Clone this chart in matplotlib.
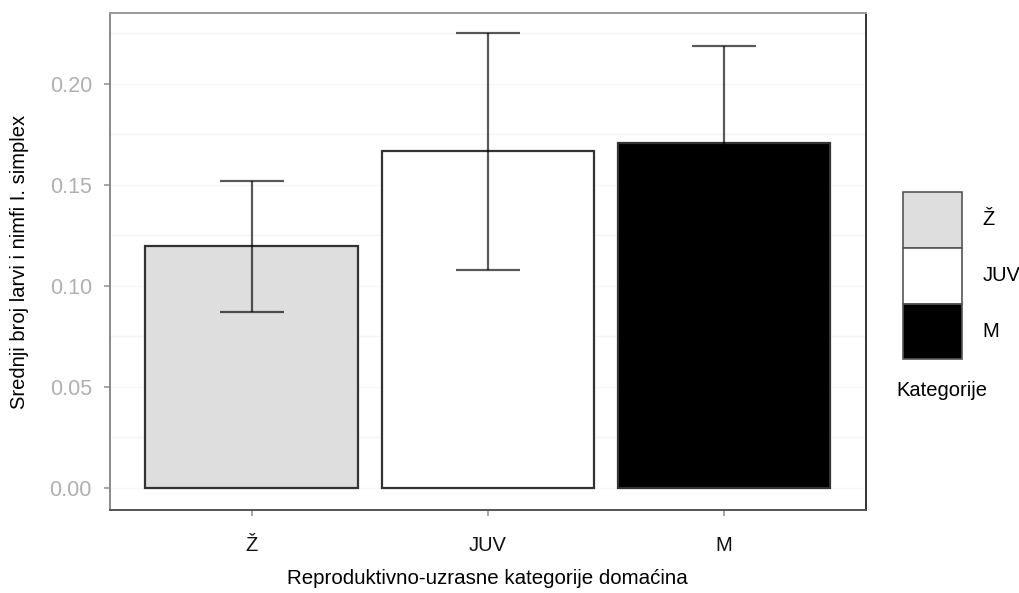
import matplotlib
matplotlib.use("Agg")
from matplotlib import pyplot as plt
from matplotlib.patches import Patch
import numpy as np

plt.rcParams['font.family'] = ['Liberation Sans', 'DejaVu Sans']

# podaci
kategorije = ["Ž", "JUV", "M"]
srednje = [0.120, 0.167, 0.171]
donja = [0.087, 0.108, 0.122]
gornja = [0.152, 0.225, 0.219]
boje = ["#dedede", "#ffffff", "#000000"]
yticks = [0.00, 0.05, 0.10, 0.15, 0.20]

fig = plt.figure(figsize=(10.2, 5.93), dpi=100)
ax = fig.add_axes([0.1078, 0.140, 0.741, 0.838])

x = np.arange(1, len(kategorije) + 1)
# slabe linije mreže
for y in np.arange(0.025, 0.25, 0.05):
    ax.axhline(y, color="#f4f4f4", lw=1, zorder=0)
for y in yticks:
    ax.axhline(y, color="#f8f8f8", lw=1, zorder=0)

ax.bar(x, srednje, width=0.9, color=boje, edgecolor="#333333", linewidth=1.6, zorder=2)
yerr = [np.array(srednje) - np.array(donja), np.array(gornja) - np.array(srednje)]
eb = ax.errorbar(x, srednje, yerr=yerr, fmt="none", ecolor="black", elinewidth=1.6,
                 capsize=23, capthick=1.6, zorder=3, alpha=0.65)

ax.set_xlim(0.4, 3.6)
ax.set_ylim(-0.0109, 0.2351)
ax.set_xticks(x)
ax.set_xticklabels(kategorije, fontsize=14.5, color="#111111")
ax.set_yticks(yticks)
ax.set_yticklabels(["%.2f" % v for v in yticks], fontsize=15.5, color="#b0b0b0")
ax.tick_params(axis="both", length=4, width=1.2, color="#999999", pad=9)
ax.tick_params(axis="x", pad=15)

ax.spines["left"].set_color("#8a8a8a")
ax.spines["top"].set_color("#9a9a9a")
ax.spines["bottom"].set_color("#555555")
ax.spines["right"].set_color("#333333")
for s in ax.spines.values():
    s.set_linewidth(1.4)

ax.set_xlabel("Reproduktivno-uzrasne kategorije domaćina", fontsize=14.8, labelpad=10)
ax.set_ylabel("Srednji broj larvi i nimfi I. simplex", fontsize=14.5, labelpad=15)

# legenda
ruke = [Patch(facecolor=b, edgecolor="#555555", linewidth=1.2) for b in boje]
leg = fig.legend(ruke, kategorije, loc="upper left", bbox_to_anchor=(0.885, 0.677),
                 frameon=False, handlelength=2.95, handleheight=3.9, labelspacing=0,
                 handletextpad=1.0, borderpad=0, borderaxespad=0, fontsize=14.5)
fig.text(0.879, 0.342, "Kategorije", fontsize=14.5, ha="left", va="center")

fig.savefig("out.png", dpi=100)
